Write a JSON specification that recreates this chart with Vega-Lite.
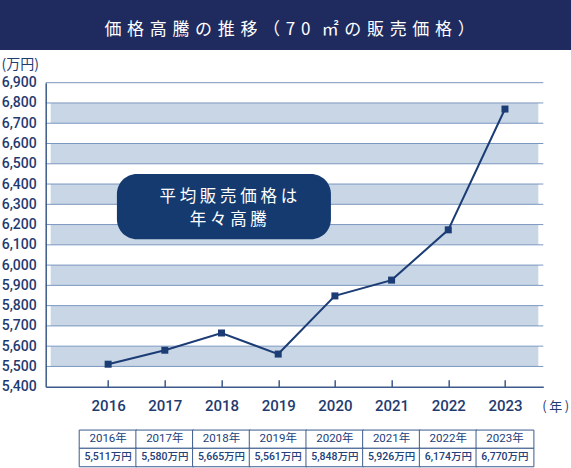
{
  "$schema": "https://vega.github.io/schema/vega-lite/v6.json",
  "width": 497.6,
  "height": 304,
  "autosize": {"type": "none"},
  "padding": {"left": 45.7, "top": 82.7, "right": 27.7, "bottom": 81.3},
  "background": "#ffffff",
  "config": {"view": {"stroke": null}, "font": "Noto Sans CJK JP"},
  "resolve": {"axis": {"x": "independent", "y": "independent"}},
  "datasets": {
    "prices": [
      {"year": 2016, "price": 5511},
      {"year": 2017, "price": 5580},
      {"year": 2018, "price": 5665},
      {"year": 2019, "price": 5561},
      {"year": 2020, "price": 5848},
      {"year": 2021, "price": 5926},
      {"year": 2022, "price": 6174},
      {"year": 2023, "price": 6770}
    ],
    "bands": [
      {"lo": 5500, "hi": 5600},
      {"lo": 5700, "hi": 5800},
      {"lo": 5900, "hi": 6000},
      {"lo": 6100, "hi": 6200},
      {"lo": 6300, "hi": 6400},
      {"lo": 6500, "hi": 6600},
      {"lo": 6700, "hi": 6800}
    ]
  },
  "layer": [
    {
      "data": {"values": [{}]},
      "mark": {"type": "rect", "color": "#1f2b5e"},
      "encoding": {
        "x": {"datum": 2014.0, "type": "quantitative", "scale": {"domain": [2014.987, 2023.588], "nice": false, "zero": false}, "axis": null},
        "x2": {"datum": 2024.3},
        "y": {"datum": 7330, "type": "quantitative", "scale": {"domain": [5400, 6900], "nice": false, "zero": false}, "axis": null},
        "y2": {"datum": 7061.3}
      }
    },
    {
      "data": {"values": [{}]},
      "mark": {"type": "text", "color": "#ffffff", "fontSize": 17, "align": "center", "baseline": "middle", "font": "Noto Sans CJK JP"},
      "encoding": {
        "x": {"datum": 2019.2, "type": "quantitative", "scale": {"domain": [2014.987, 2023.588], "nice": false, "zero": false}, "axis": null},
        "y": {"datum": 7160, "type": "quantitative", "scale": {"domain": [5400, 6900], "nice": false, "zero": false}, "axis": null},
        "text": {"value": "価\u2004格\u2004高\u2004騰\u2004の\u2004推\u2004移\u2004（\u20047\u20040\u2004\u2004㎡\u2004の\u2004販\u2004売\u2004価\u2004格\u2004）"}
      }
    },
    {
      "data": {"name": "bands"},
      "mark": {"type": "rect", "color": "#c8d6e6"},
      "encoding": {
        "x": {"datum": 2014.987, "type": "quantitative", "scale": {"domain": [2014.987, 2023.588], "nice": false, "zero": false}, "axis": null},
        "x2": {"datum": 2023.588},
        "y": {"field": "lo", "type": "quantitative", "scale": {"domain": [5400, 6900], "nice": false, "zero": false}, "axis": null},
        "y2": {"field": "hi"}
      }
    },
    {
      "data": {"name": "bands"},
      "mark": {"type": "rule", "color": "#7b96bf", "strokeWidth": 1},
      "encoding": {
        "y": {"field": "lo", "type": "quantitative", "scale": {"domain": [5400, 6900], "nice": false, "zero": false}, "axis": null}
      }
    },
    {
      "data": {"name": "bands"},
      "mark": {"type": "rule", "color": "#7b96bf", "strokeWidth": 1},
      "encoding": {
        "y": {"field": "hi", "type": "quantitative", "scale": {"domain": [5400, 6900], "nice": false, "zero": false}, "axis": null}
      }
    },
    {
      "data": {"values": [{}]},
      "mark": {"type": "rule", "color": "#7b96bf", "strokeWidth": 1},
      "encoding": {
        "y": {"datum": 6900, "type": "quantitative", "scale": {"domain": [5400, 6900], "nice": false, "zero": false}, "axis": null}
      }
    },
    {
      "data": {"name": "prices"},
      "mark": {"type": "line", "color": "#1b3c74", "strokeWidth": 2},
      "encoding": {
        "x": {
          "field": "year", "type": "quantitative",
          "scale": {"domain": [2014.987, 2023.588], "nice": false, "zero": false},
          "axis": {
            "values": [2016, 2017, 2018, 2019, 2020, 2021, 2022, 2023],
            "format": "d", "grid": false, "zindex": 1,
            "labelFont": "Roboto", "labelFontSize": 15, "labelFontWeight": 500, "labelColor": "#1f3b70",
            "labelPadding": 19, "labelFlush": false, "labelOverlap": false,
            "tickSize": -7, "tickColor": "#3d5a8a", "tickWidth": 1.5,
            "domainColor": "#3d5a8a", "domainWidth": 1.5,
            "title": "(\u2009年\u2009)", "titleX": 496, "titleY": 19.3, "titleAlign": "left", "titleBaseline": "middle", "titleAngle": 0,
            "titleFont": "Noto Sans CJK JP", "titleFontSize": 13, "titleFontWeight": "normal", "titleColor": "#1f3b70"
          }
        },
        "y": {
          "field": "price", "type": "quantitative",
          "scale": {"domain": [5400, 6900], "nice": false, "zero": false},
          "axis": {
            "values": [5400, 5500, 5600, 5700, 5800, 5900, 6000, 6100, 6200, 6300, 6400, 6500, 6600, 6700, 6800, 6900],
            "format": ",d", "grid": false, "zindex": 1, "ticks": false,
            "labelFont": "Roboto", "labelFontSize": 14, "labelFontWeight": 500, "labelColor": "#1f3b70",
            "labelPadding": 9.5, "labelFlush": false, "labelOverlap": false,
            "domainColor": "#3d5a8a", "domainWidth": 1.5,
            "title": "(万円)", "titleX": -44.7, "titleY": -18.7, "titleAlign": "left", "titleBaseline": "middle", "titleAngle": 0,
            "titleFont": "Noto Sans CJK JP", "titleFontSize": 14, "titleFontWeight": "normal", "titleColor": "#1f3b70"
          }
        }
      }
    },
    {
      "data": {"name": "prices"},
      "mark": {"type": "point", "shape": "square", "filled": true, "size": 49, "color": "#1b3c74", "opacity": 1},
      "encoding": {
        "x": {"field": "year", "type": "quantitative", "scale": {"domain": [2014.987, 2023.588], "nice": false, "zero": false}, "axis": null},
        "y": {"field": "price", "type": "quantitative", "scale": {"domain": [5400, 6900], "nice": false, "zero": false}, "axis": null}
      }
    },
    {
      "data": {"values": [{}]},
      "mark": {"type": "rect", "color": "#143a70", "cornerRadius": 20},
      "encoding": {
        "x": {"datum": 2016.155, "type": "quantitative", "scale": {"domain": [2014.987, 2023.588], "nice": false, "zero": false}, "axis": null},
        "x2": {"datum": 2019.93},
        "y": {"datum": 6128, "type": "quantitative", "scale": {"domain": [5400, 6900], "nice": false, "zero": false}, "axis": null},
        "y2": {"datum": 6450}
      }
    },
    {
      "data": {"values": [{}]},
      "mark": {"type": "text", "color": "#ffffff", "fontSize": 16.5, "align": "center", "baseline": "middle", "lineHeight": 23, "font": "Noto Sans CJK JP"},
      "encoding": {
        "x": {"datum": 2018.12, "type": "quantitative", "scale": {"domain": [2014.987, 2023.588], "nice": false, "zero": false}, "axis": null},
        "y": {"datum": 6335, "type": "quantitative", "scale": {"domain": [5400, 6900], "nice": false, "zero": false}, "axis": null},
        "text": {"value": ["平 均 販 売 価 格 は", "年 々 高 騰"]}
      }
    },
    {
      "data": {"name": "prices"},
      "mark": {"type": "bar", "width": 57.86, "fill": "#ffffff", "stroke": "#3b5a8c", "strokeWidth": 1},
      "encoding": {
        "x": {"field": "year", "type": "quantitative", "scale": {"domain": [2014.987, 2023.588], "nice": false, "zero": false}, "axis": null},
        "y": {"datum": 5186, "type": "quantitative", "scale": {"domain": [5400, 6900], "nice": false, "zero": false}, "axis": null},
        "y2": {"datum": 5096}
      }
    },
    {
      "data": {"name": "prices"},
      "mark": {"type": "bar", "width": 57.86, "fill": "#ffffff", "stroke": "#3b5a8c", "strokeWidth": 1},
      "encoding": {
        "x": {"field": "year", "type": "quantitative", "scale": {"domain": [2014.987, 2023.588], "nice": false, "zero": false}, "axis": null},
        "y": {"datum": 5096, "type": "quantitative", "scale": {"domain": [5400, 6900], "nice": false, "zero": false}, "axis": null},
        "y2": {"datum": 5005}
      }
    },
    {
      "data": {"name": "prices"},
      "transform": [{"calculate": "datum.year + '年'", "as": "yearLabel"}],
      "mark": {"type": "text", "color": "#22407a", "fontSize": 11.5, "align": "center", "baseline": "middle", "font": "Roboto, Noto Sans CJK JP"},
      "encoding": {
        "x": {"field": "year", "type": "quantitative", "scale": {"domain": [2014.987, 2023.588], "nice": false, "zero": false}, "axis": null},
        "y": {"datum": 5141, "type": "quantitative", "scale": {"domain": [5400, 6900], "nice": false, "zero": false}, "axis": null},
        "text": {"field": "yearLabel"}
      }
    },
    {
      "data": {"name": "prices"},
      "transform": [{"calculate": "format(datum.price, ',') + '万円'", "as": "priceLabel"}],
      "mark": {"type": "text", "color": "#22407a", "fontSize": 10.5, "fontWeight": 500, "align": "center", "baseline": "middle", "font": "Roboto, Noto Sans CJK JP"},
      "encoding": {
        "x": {"field": "year", "type": "quantitative", "scale": {"domain": [2014.987, 2023.588], "nice": false, "zero": false}, "axis": null},
        "y": {"datum": 5050.7, "type": "quantitative", "scale": {"domain": [5400, 6900], "nice": false, "zero": false}, "axis": null},
        "text": {"field": "priceLabel"}
      }
    }
  ]
}
